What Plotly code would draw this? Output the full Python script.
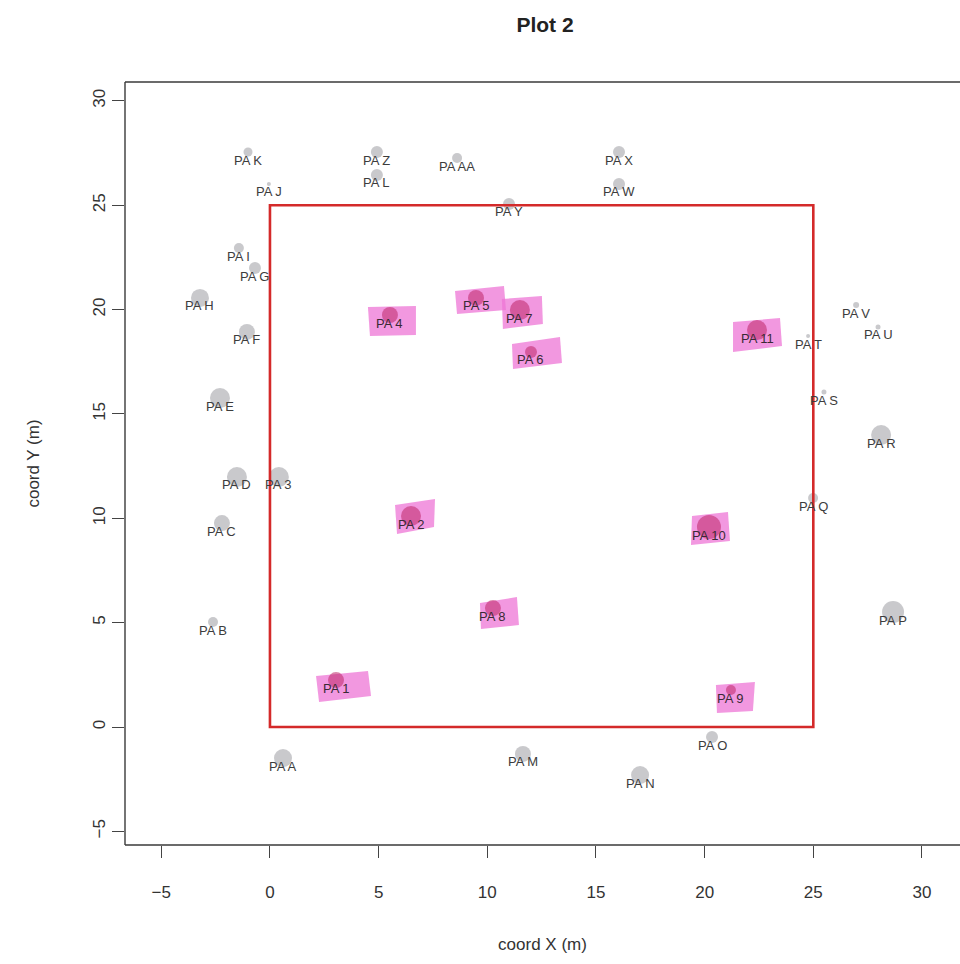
import plotly.graph_objects as go

# Reference trees outside / around the plot (grey)
grey_names = ["PA K", "PA Z", "PA AA", "PA L", "PA J", "PA X", "PA W", "PA Y",
              "PA I", "PA G", "PA H", "PA F", "PA E", "PA D", "PA 3", "PA C",
              "PA B", "PA A", "PA M", "PA N", "PA O", "PA P", "PA Q", "PA R",
              "PA S", "PA T", "PA U", "PA V"]
grey_x = [-1.01, 4.92, 8.61, 4.92, -0.05, 16.06, 16.06, 11.00,
          -1.43, -0.69, -3.22, -1.06, -2.30, -1.52, 0.41, -2.21,
          -2.62, 0.60, 11.64, 17.03, 20.34, 28.67, 24.99, 28.12,
          25.49, 24.76, 27.98, 26.97]
grey_y = [27.55, 27.55, 27.26, 26.45, 26.02, 27.55, 26.02, 25.06,
          22.95, 21.99, 20.56, 18.93, 15.76, 11.98, 11.98, 9.77,
          5.03, -1.49, -1.29, -2.30, -0.48, 5.51, 10.97, 13.99,
          16.05, 18.73, 19.17, 20.22]
grey_diam = [9, 12, 10, 12, 4, 12, 12, 12,
             10, 12, 18, 16, 20, 20, 20, 16,
             10, 18, 16, 18, 12, 22, 10, 20,
             5, 4, 5, 6]

# Trees inside the plot (magenta, highlighted)
pink_names = ["PA 1", "PA 2", "PA 4", "PA 5", "PA 7", "PA 6", "PA 8", "PA 9", "PA 10", "PA 11"]
pink_x = [3.04, 6.49, 5.52, 9.48, 11.50, 12.01, 10.26, 21.21, 20.20, 22.41]
pink_y = [2.25, 10.11, 19.74, 20.56, 19.98, 17.97, 5.70, 1.77, 9.58, 19.02]
pink_diam = [16, 20, 16, 16, 20, 12, 16, 10, 24, 20]

# Plot boundary (m)
plot_x = [0, 25]
plot_y = [0, 25]

x_ticks = [-5, 0, 5, 10, 15, 20, 25, 30]
y_ticks = [-5, 0, 5, 10, 15, 20, 25, 30]

# Axis geometry
W, H = 960, 964
ML, MT, MB, MR = 125, 82, 119, 0
X_RANGE = [-6.67, 31.75]
Y_RANGE = [-5.654, 30.905]
px_per_x = (W - ML - MR) / (X_RANGE[1] - X_RANGE[0])
px_per_y = (H - MT - MB) / (Y_RANGE[1] - Y_RANGE[0])

# Hand-drawn highlighter strokes: corner offsets in pixels (TL, TR, BR, BL)
marker_offsets = [
    [(-20, -4), (32, -9), (35, 16), (-17, 22)],
    [(-16, -11), (24, -17), (23, 11), (-14, 18)],
    [(-22, -8), (26, -9), (26, 20), (-20, 21)],
    [(-21, -7), (28, -12), (30, 12), (-19, 16)],
    [(-18, -11), (22, -14), (23, 14), (-17, 19)],
    [(-19, -8), (29, -15), (31, 11), (-18, 17)],
    [(-13, -5), (24, -11), (26, 17), (-12, 21)],
    [(-15, -5), (24, -8), (22, 21), (-14, 23)],
    [(-17, -11), (19, -15), (21, 14), (-18, 18)],
    [(-24, -8), (23, -12), (25, 16), (-24, 22)],
]

FONT = "Liberation Sans, Arial, Helvetica, sans-serif"

fig = go.Figure()

shapes = []
for cx, cy, offs in zip(pink_x, pink_y, marker_offsets):
    pts = [(cx + dx / px_per_x, cy - dy / px_per_y) for dx, dy in offs]
    path = "M " + " L ".join(f"{px:.3f},{py:.3f}" for px, py in pts) + " Z"
    shapes.append(dict(type="path", path=path, xref="x", yref="y",
                       fillcolor="rgba(238,118,214,0.75)",
                       line=dict(width=0), layer="below"))

# Plot square
shapes.append(dict(type="rect", xref="x", yref="y",
                   x0=plot_x[0], x1=plot_x[1], y0=plot_y[0], y1=plot_y[1],
                   line=dict(color="#d42a2a", width=2.6), fillcolor="rgba(0,0,0,0)",
                   layer="above"))

# Frame (left, top, bottom)
frame_col = "#3a3a3a"
shapes.append(dict(type="line", xref="paper", yref="paper", x0=0, x1=0, y0=0, y1=1,
                   line=dict(color=frame_col, width=1.4)))
shapes.append(dict(type="line", xref="paper", yref="paper", x0=0, x1=1, y0=1, y1=1,
                   line=dict(color=frame_col, width=1.4)))
shapes.append(dict(type="line", xref="paper", yref="paper", x0=0, x1=1, y0=0, y1=0,
                   line=dict(color=frame_col, width=1.4)))

fig.add_trace(go.Scatter(
    x=grey_x, y=grey_y, mode="markers",
    marker=dict(size=grey_diam, color="rgba(165,165,170,0.85)", line=dict(width=0)),
    hoverinfo="skip", showlegend=False))

fig.add_trace(go.Scatter(
    x=pink_x, y=pink_y, mode="markers",
    marker=dict(size=pink_diam, color="rgba(190,40,105,0.8)", line=dict(width=0)),
    hoverinfo="skip", showlegend=False))

annotations = []
for name, x, y in zip(grey_names, grey_x, grey_y):
    annotations.append(dict(x=x, y=y, xref="x", yref="y", text=name, showarrow=False,
                            yshift=-8, font=dict(family=FONT, size=13, color="#3c3c3c")))
for name, x, y in zip(pink_names, pink_x, pink_y):
    annotations.append(dict(x=x, y=y, xref="x", yref="y", text=name, showarrow=False,
                            yshift=-8, font=dict(family=FONT, size=13, color="#3a2a34")))

fig.update_layout(
    width=W, height=H,
    margin=dict(l=ML, r=MR, t=MT, b=MB),
    paper_bgcolor="white", plot_bgcolor="white",
    shapes=shapes, annotations=annotations,
    title=dict(text="<b>Plot 2</b>", x=545 / W, xanchor="center",
               y=1 - 25 / H, yanchor="middle",
               font=dict(family=FONT, size=21, color="#222")),
    font=dict(family=FONT, color="#333"),
    xaxis=dict(range=X_RANGE, tickvals=x_ticks, ticks="outside", ticklen=12,
               tickwidth=1.2, tickcolor="#444", showgrid=False, zeroline=False,
               showline=False, tickfont=dict(size=17, color="#333"),
               ticklabelstandoff=20,
               title=dict(text="coord X (m)", font=dict(size=17, color="#333"),
                          standoff=36)),
    yaxis=dict(range=Y_RANGE, tickvals=y_ticks, ticks="outside", ticklen=12,
               tickwidth=1.2, tickcolor="#444", showgrid=False, zeroline=False,
               showline=False, tickangle=-90, tickfont=dict(size=17, color="#333"),
               ticklabelstandoff=0,
               title=dict(text="coord Y (m)", font=dict(size=17, color="#333"),
                          standoff=46)),
)

fig.write_html("out.html")
